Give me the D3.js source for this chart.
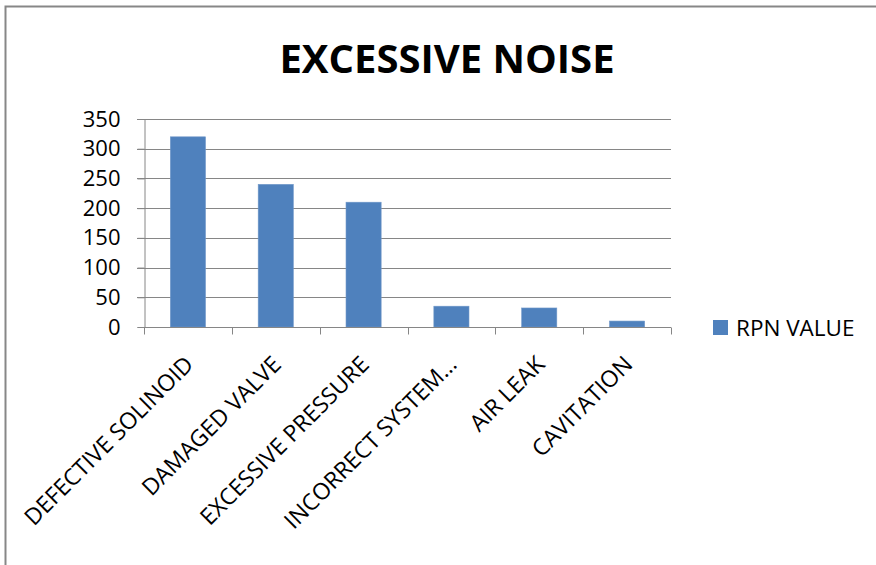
<!DOCTYPE html>
<html>
<head>
<meta charset="utf-8">
<script src="https://cdn.jsdelivr.net/npm/d3@7"></script>
<style>
  body { margin: 0; background: #fff; }
  text { font-family: "Open Sans", Lato, sans-serif; fill: #000; }
</style>
</head>
<body>
<div id="chart"></div>
<script>
var categories = ["DEFECTIVE SOLINOID", "DAMAGED VALVE", "EXCESSIVE PRESSURE", "INCORRECT SYSTEM…", "AIR LEAK", "CAVITATION"];
var rpnValues = [320, 240, 210, 35, 32, 10];
var yTicks = [0, 50, 100, 150, 200, 250, 300, 350];
var seriesName = "RPN VALUE";
var chartTitle = "EXCESSIVE NOISE";

var W = 876, H = 565;
var plot = {left: 144, right: 671, top: 119, bottom: 327};

var svg = d3.select("#chart").append("svg")
    .attr("width", W)
    .attr("height", H);

// chart frame (runs off the right and bottom edges)
svg.append("rect")
    .attr("x", 5.5).attr("y", 6.5)
    .attr("width", W + 20).attr("height", H + 20)
    .style("fill", "#fff")
    .style("stroke", "#878787")
    .style("stroke-width", 2);

var x = d3.scaleBand().domain(categories).range([plot.left, plot.right]);
var y = d3.scaleLinear().domain([0, 350]).range([plot.bottom, plot.top]);

// gridlines
svg.append("g").selectAll("line")
    .data(yTicks.filter(function(d){ return d > 0; }))
    .enter().append("line")
    .attr("x1", plot.left - 7).attr("x2", plot.right)
    .attr("y1", function(d){ return Math.round(y(d)) + 0.5; })
    .attr("y2", function(d){ return Math.round(y(d)) + 0.5; })
    .style("stroke", "#868686")
    .style("stroke-width", 1);

// y axis
var yAxis = svg.append("g")
    .attr("transform", "translate(" + (plot.left + 0.5) + ",0)")
    .call(d3.axisLeft(y).tickValues(yTicks).tickSize(7).tickPadding(17));
yAxis.select(".domain").style("stroke", "#868686");
yAxis.selectAll(".tick line").style("stroke", "#868686");
yAxis.selectAll("text").style("font-size", "22px").style("fill", "#000");

// bars
var barW = x.bandwidth() * 0.4;
svg.append("g").selectAll("rect")
    .data(rpnValues)
    .enter().append("rect")
    .attr("x", function(d, i){ return x(categories[i]) + (x.bandwidth() - barW) / 2; })
    .attr("width", barW)
    .attr("y", function(d){ return y(d); })
    .attr("height", function(d){ return y(0) - y(d); })
    .style("fill", "#4F81BD")
    .style("stroke", "#6F97C8")
    .style("stroke-width", 0.6);

// x axis line and ticks
var xAxis = svg.append("g").attr("transform", "translate(0," + (plot.bottom + 0.5) + ")");
xAxis.append("line")
    .attr("x1", plot.left).attr("x2", plot.right)
    .style("stroke", "#868686");
var bounds = categories.map(function(c){ return x(c); }).concat([plot.right]);
xAxis.selectAll(".xt").data(bounds).enter().append("line")
    .attr("class", "xt")
    .attr("x1", function(d){ return Math.round(d) + 0.5; })
    .attr("x2", function(d){ return Math.round(d) + 0.5; })
    .attr("y1", 0).attr("y2", 7)
    .style("stroke", "#868686");

// rotated category labels
svg.append("g").selectAll("text")
    .data(categories)
    .enter().append("text")
    .attr("transform", function(d){
        return "translate(" + (x(d) + x.bandwidth() / 2 + 1) + ",360) rotate(-45)";
    })
    .attr("text-anchor", "end")
    .attr("dy", "0.36em")
    .style("font-size", "23px")
    .text(function(d){ return d; });

// title
svg.append("text")
    .attr("x", 447).attr("y", 73)
    .attr("text-anchor", "middle")
    .style("font-size", "40px")
    .style("font-weight", "bold")
    .text(chartTitle);

// legend
var legend = svg.append("g").attr("transform", "translate(713,320)");
legend.append("rect")
    .attr("width", 15).attr("height", 15)
    .style("fill", "#4F81BD");
legend.append("text")
    .attr("x", 23).attr("y", 16)
    .style("font-size", "22.5px")
    .text(seriesName);
</script>
</body>
</html>
